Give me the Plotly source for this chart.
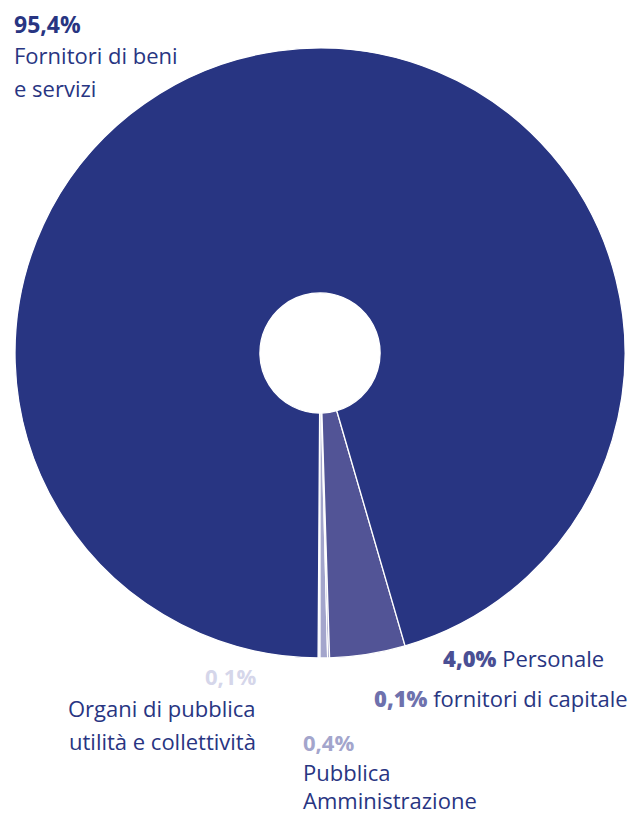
import plotly.graph_objects as go

# Data
labels = ["Organi di pubblica utilità e collettività", "Pubblica Amministrazione",
          "fornitori di capitale", "Personale", "Fornitori di beni e servizi"]
values = [0.1, 0.4, 0.1, 4.0, 95.4]
pct_text = ["0,1%", "0,4%", "0,1%", "4,0%", "95,4%"]
colors = ["#d5d6ea", "#a3a5cc", "#6e71ad", "#525496", "#283582"]

W, H = 633, 815
NAVY = "#283582"
FONT = "Open Sans"
FS = 22

fig = go.Figure(go.Pie(
    labels=labels, values=values, sort=False, direction="counterclockwise",
    rotation=180, hole=0.197,
    marker=dict(colors=colors, line=dict(color="white", width=1.3)),
    textinfo="none", hoverinfo="label+percent", showlegend=False,
    domain=dict(x=[15 / W, 625 / W], y=[1 - 658 / H, 1 - 48 / H]),
))


def ann(text, px, py, xanchor, color=NAVY, bold=False, size=FS):
    fig.add_annotation(
        text=f"<b>{text}</b>" if bold else text,
        x=px / W, y=1 - py / H, xref="paper", yref="paper",
        xanchor=xanchor, yanchor="middle", showarrow=False,
        font=dict(family=FONT, size=size, color=color, weight=800 if bold else 400),
    )


def span(t, c):
    return f"<span style='color:{c};font-weight:800'>{t}</span>"


# Fornitori di beni e servizi
ann(pct_text[4], 12, 24, "left", NAVY, bold=True, size=23)
ann("Fornitori di beni", 12, 55, "left")
ann("e servizi", 12, 88, "left")

# Personale
ann(span(pct_text[3], "#4a4f94") + " Personale", 441, 658, "left")
# fornitori di capitale
ann(span(pct_text[2], "#6e71ad") + " fornitori di capitale", 630, 698, "right")
# Pubblica Amministrazione
ann(pct_text[1], 301, 742, "left", "#a3a5cc", bold=True)
ann("Pubblica", 301, 772, "left")
ann("Amministrazione", 301, 800, "left")
# Organi
ann(pct_text[0], 258, 676, "right", "#d5d6ea", bold=True)
ann("Organi di pubblica", 258, 708, "right")
ann("utilità e collettività", 258, 741, "right")

fig.update_layout(
    width=W, height=H, margin=dict(l=0, r=0, t=0, b=0),
    paper_bgcolor="white", plot_bgcolor="white",
)

fig.write_html("out.html", config={"displayModeBar": False},
               post_script="document.body.style.margin='0';document.body.style.padding='0';")
